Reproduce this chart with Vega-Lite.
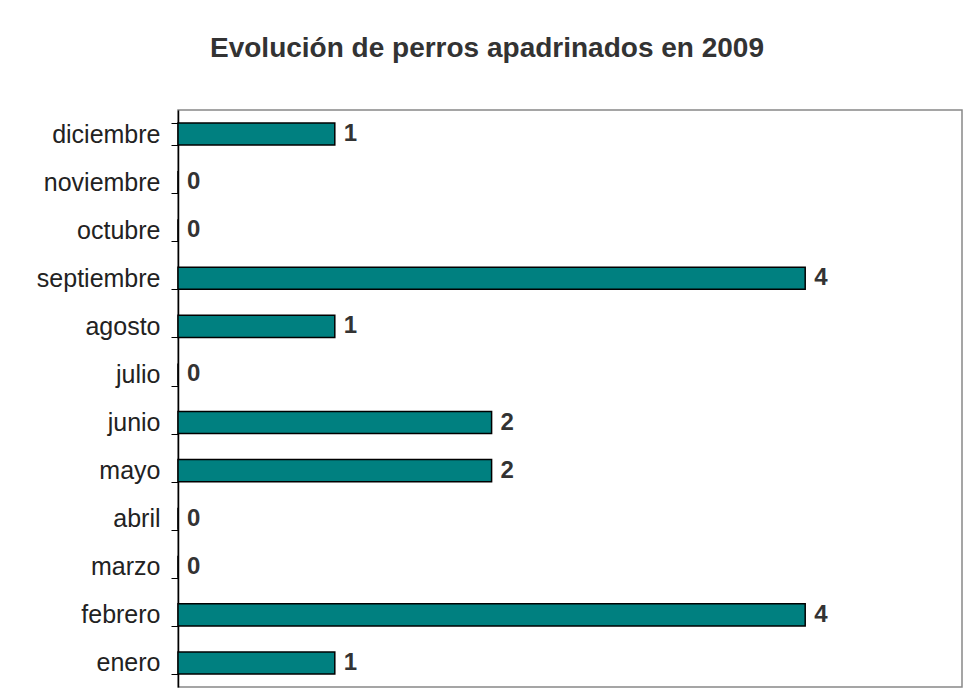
{
  "$schema": "https://vega.github.io/schema/vega-lite/v6.json",
  "autosize": "none",
  "width": 784,
  "height": 577,
  "padding": {"left": 178, "top": 110, "right": 12, "bottom": 13},
  "background": "white",
  "title": {
    "text": "Evolución de perros apadrinados en 2009",
    "font": "Liberation Sans",
    "fontSize": 28,
    "fontWeight": "bold",
    "color": "#333333",
    "anchor": "middle",
    "dx": -83,
    "offset": 35
  },
  "config": {
    "view": {"stroke": "#888888", "strokeWidth": 1.5},
    "font": "Liberation Sans"
  },
  "data": {
    "values": [
      {"mes": "enero", "perros": 1},
      {"mes": "febrero", "perros": 4},
      {"mes": "marzo", "perros": 0},
      {"mes": "abril", "perros": 0},
      {"mes": "mayo", "perros": 2},
      {"mes": "junio", "perros": 2},
      {"mes": "julio", "perros": 0},
      {"mes": "agosto", "perros": 1},
      {"mes": "septiembre", "perros": 4},
      {"mes": "octubre", "perros": 0},
      {"mes": "noviembre", "perros": 0},
      {"mes": "diciembre", "perros": 1}
    ]
  },
  "encoding": {
    "y": {
      "field": "mes",
      "type": "nominal",
      "sort": ["diciembre", "noviembre", "octubre", "septiembre", "agosto", "julio", "junio", "mayo", "abril", "marzo", "febrero", "enero"],
      "scale": {"paddingInner": 0.54, "paddingOuter": 0.27},
      "axis": {
        "title": null,
        "tickBand": "extent",
        "tickSize": 7,
        "tickColor": "#000000",
        "domainColor": "#000000",
        "domainWidth": 1.5,
        "labelFontSize": 25,
        "labelColor": "#222222",
        "labelPadding": 11,
        "labelFont": "Liberation Sans"
      }
    },
    "x": {
      "field": "perros",
      "type": "quantitative",
      "scale": {"domain": [0, 5], "nice": false},
      "axis": null
    }
  },
  "layer": [
    {
      "mark": {"type": "bar", "fill": "#008080", "stroke": "#000000", "strokeWidth": 1.5}
    },
    {
      "mark": {
        "type": "text",
        "align": "left",
        "baseline": "middle",
        "dx": 9,
        "fontSize": 24,
        "fontWeight": "bold",
        "color": "#333333",
        "font": "Liberation Sans"
      },
      "encoding": {"text": {"field": "perros", "type": "quantitative"}}
    }
  ]
}
